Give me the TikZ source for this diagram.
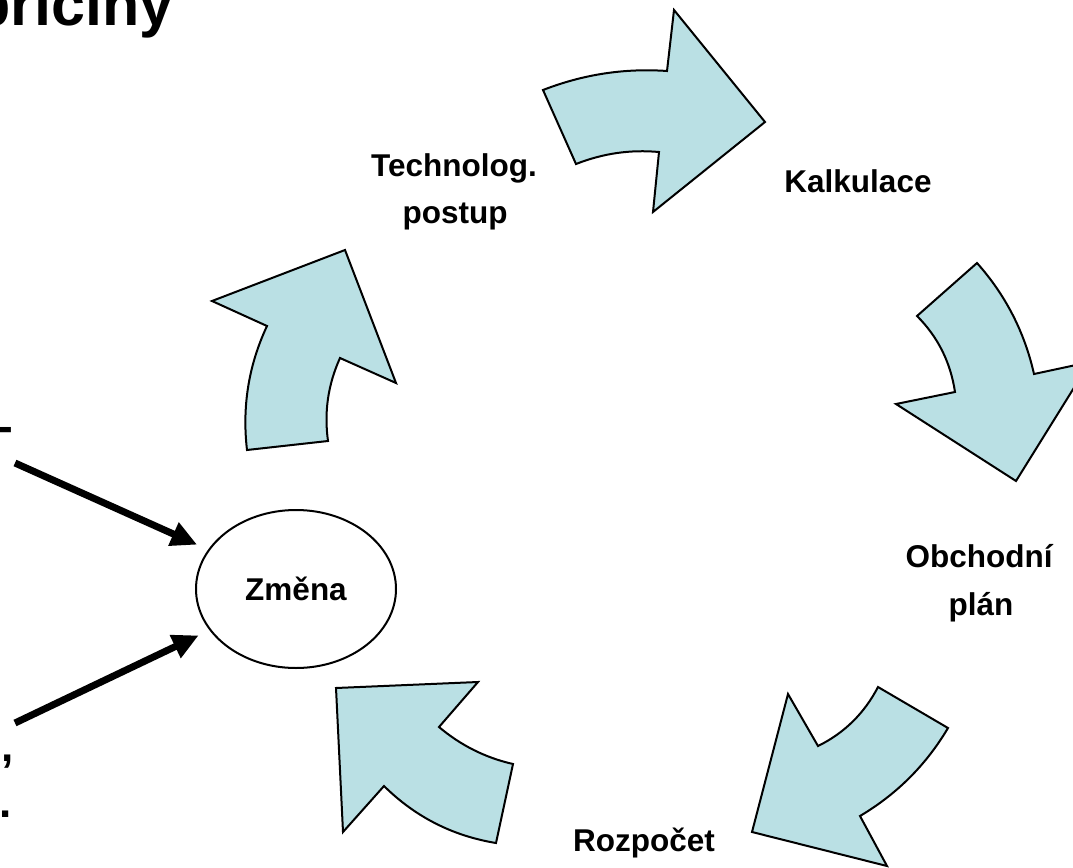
\documentclass[tikz,border=0pt]{standalone}
\usepackage{fontspec}
\setmainfont{Liberation Sans}
\usetikzlibrary{arrows.meta,shapes.geometric}
\definecolor{cyclefill}{RGB}{186,224,228}
\begin{document}
\begin{tikzpicture}[x=1pt,y=-1pt,
  bent/.style={draw=black, line width=2pt, fill=cyclefill, line join=miter},
  lbl/.style={font=\fontsize{31.5}{36}\selectfont\bfseries, inner sep=0pt, anchor=base},
  big/.style={font=\fontsize{61}{70}\selectfont\bfseries, inner sep=0pt, anchor=base west},
  side/.style={font=\fontsize{44}{50}\selectfont\bfseries, inner sep=0pt, anchor=base west},
  push/.style={line width=7pt, -{Triangle[length=26pt,width=24pt]}, shorten >=12pt}
]
\useasboundingbox (0,0) rectangle (1073,867);
\clip (0,0) rectangle (1073,867);

% heading and text cut at the left margin
\node[big] (title) at (-27,26) {příčiny};
\node[side] (dash) at (-2,441) {-};
\node[side] (comma) at (1.5,761) {,};
\node[side] (stop) at (-1,817) {.};

% cycle of curved arrows
\draw[bent] (543,90) .. controls (583,74.5) and (624,68) .. (667,71) -- (674,10) -- (765,122)
  -- (653,212) -- (659,152) .. controls (630,149.4) and (603,153.4) .. (576,164) -- cycle;
\draw[bent] (977,263) -- (917,316) .. controls (938,337) and (950.6,362.5) .. (955,392)
  -- (896,404) -- (1016,481) -- (1090,362) -- (1034,374)
  .. controls (1024.5,332) and (1005.5,295) .. (977,263) -- cycle;
\draw[bent] (878,687) -- (948,728) .. controls (926,765) and (897,794) .. (860,816)
  -- (887,866) -- (752,832) -- (788,694) -- (818,746)
  .. controls (844.5,733) and (864.5,713) .. (878,687) -- cycle;
\draw[bent] (336,688) -- (478,682) -- (439,727) .. controls (460.7,745.3) and (485.3,757.7) .. (513,764)
  -- (496,843) .. controls (452.7,835.9) and (415.3,816.9) .. (384,786) -- (343,832) -- cycle;
\draw[bent] (247,450) -- (328,441) .. controls (324,412) and (328,384.6) .. (340,358)
  -- (396,383) -- (345,250) -- (212,301) -- (267,326)
  .. controls (248.5,365.4) and (242,406.8) .. (247,450) -- cycle;

% stage labels
\node[lbl] (tech1) at (454,176) {Technolog.};
\node[lbl] (tech2) at (455,223) {postup};
\node[lbl] (kalk) at (858,192) {Kalkulace};
\node[lbl] (obch1) at (979,567) {Obchodní};
\node[lbl] (obch2) at (981,615) {plán};
\node[lbl] (rozp) at (644,851) {Rozpočet};

% central change node with incoming arrows
\node[ellipse, draw, line width=2pt, minimum width=200pt, minimum height=158pt, inner sep=0pt,
  font=\fontsize{31.5}{36}\selectfont\bfseries] (zmena) at (296,589) {Změna};
\coordinate (in1) at (15,463);
\coordinate (in2) at (15,723);
\draw[push] (in1) -- (zmena);
\draw[push] (in2) -- (zmena);
\end{tikzpicture}
\end{document}
